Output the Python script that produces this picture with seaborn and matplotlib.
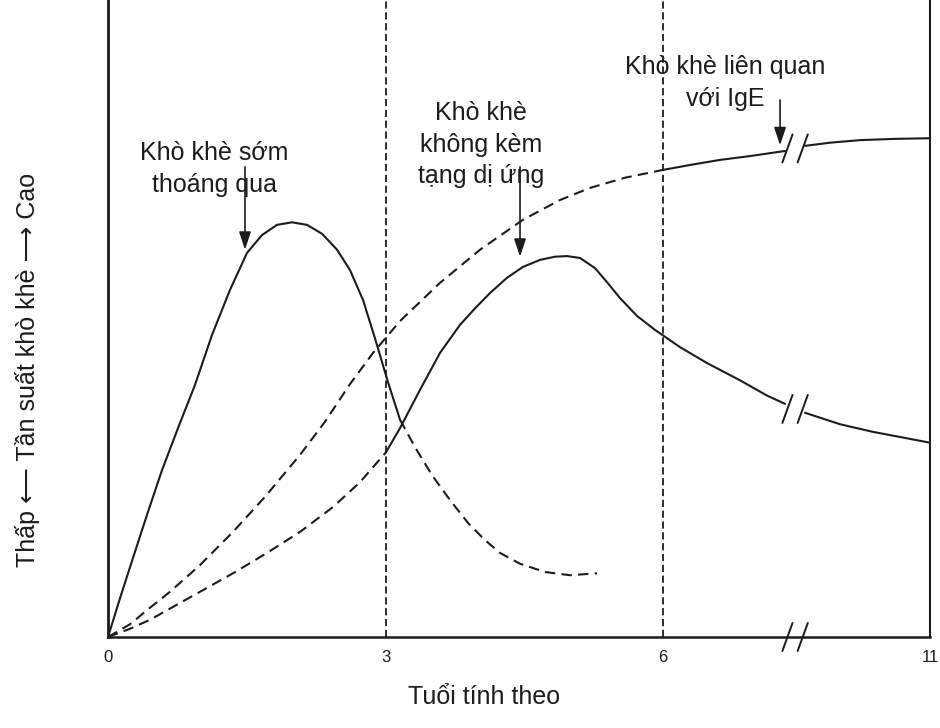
import numpy as np
import pandas as pd
import matplotlib
matplotlib.use("Agg")
import matplotlib.pyplot as plt
import seaborn as sns

# ---------------- data (x = position on the drawn age axis, y = 0-100 frequency) ----------
tick_pos = [0, 3, 6, 8.886]
tick_labels = ["0", "3", "6", "11"]

# Early transient wheeze (solid part, then dashed continuation)
early_x = [0.0, 0.130, 0.270, 0.422, 0.584, 0.757, 0.941, 1.124, 1.319, 1.503, 1.665, 1.827,
           1.989, 2.151, 2.314, 2.476, 2.616, 2.757, 2.886, 3.027, 3.157]
early_y = [0.0, 6.1, 12.4, 19.2, 26.2, 32.8, 39.6, 47.4, 54.5, 60.3, 63.1, 64.7,
           65.1, 64.7, 63.3, 60.8, 57.6, 52.9, 46.9, 40.0, 34.1]
early_tail_x = [3.157, 3.319, 3.503, 3.697, 3.892, 4.076, 4.238, 4.454, 4.724, 4.995, 5.286]
early_tail_y = [34.1, 29.8, 25.4, 21.5, 17.9, 15.2, 13.2, 11.5, 10.2, 9.7, 10.0]

# IgE-associated wheeze (dashed onset, then solid)
ige_pre_x = [0.0, 0.238, 0.454, 0.670, 0.995, 1.351, 1.697, 2.076, 2.346, 2.616, 2.865,
             3.157, 3.589, 4.022, 4.486, 4.886, 5.211, 5.589, 5.989]
ige_pre_y = [0.0, 2.0, 4.6, 7.1, 11.3, 16.5, 22.0, 28.6, 33.8, 39.7, 44.6,
             49.6, 55.6, 60.8, 65.5, 68.6, 70.5, 72.1, 73.3]
ige_a_x = [5.989, 6.292, 6.616, 6.941, 7.319]
ige_a_y = [73.3, 74.1, 74.9, 75.5, 76.3]
ige_b_x = [7.535, 7.805, 8.130, 8.508, 8.886]
ige_b_y = [77.1, 77.6, 78.0, 78.2, 78.3]

# Non-atopic wheeze (dashed onset, then solid)
nonatopic_pre_x = [0.0, 0.238, 0.454, 0.724, 0.995, 1.351, 1.719, 2.076, 2.432, 2.724, 3.005]
nonatopic_pre_y = [0.0, 1.3, 2.7, 4.9, 7.1, 10.0, 13.2, 16.5, 20.4, 24.3, 29.0]
nonatopic_a_x = [3.005, 3.157, 3.373, 3.589, 3.805, 3.968, 4.130, 4.314, 4.486, 4.670, 4.832,
                 4.962, 5.103, 5.265, 5.395, 5.535, 5.719, 5.914, 6.184, 6.476, 6.832, 7.124, 7.319]
nonatopic_a_y = [29.0, 32.8, 38.8, 44.6, 49.0, 51.6, 54.0, 56.4, 58.1, 59.2, 59.7,
                 59.8, 59.5, 57.9, 55.7, 53.2, 50.4, 48.2, 45.5, 43.0, 40.3, 37.9, 36.6]
nonatopic_b_x = [7.535, 7.914, 8.270, 8.562, 8.886]
nonatopic_b_y = [35.2, 33.4, 32.2, 31.4, 30.5]

age_marks = [3, 6]
break_pos = [7.345, 7.51]

labels = ["Khò khè sớm\nthoáng qua", "Khò khè\nkhông kèm\ntạng dị ứng", "Khò khè liên quan\nvới IgE"]
label_xy = [(1.146, 73.5), (4.03, 77.3), (6.67, 87.0)]
arrow_from = [(1.481, 73.8), (4.454, 73.8), (7.265, 84.3)]
arrow_to = [(1.481, 60.8), (4.454, 59.7), (7.265, 77.2)]

xlabel = "Tuổi tính theo"
ylabel = "Thấp ⟵ Tần suất khò khè ⟶ Cao"

# ---------------- drawing ----------------
sns.set_theme(style="white")
plt.rcParams["font.family"] = ["Liberation Sans", "DejaVu Sans"]

ink = "#1c1c1c"
fig = plt.figure(figsize=(9.4, 7.28), dpi=100)
ax = fig.add_axes([108 / 940, 91 / 728, 822 / 940, 637 / 728])

def seg(x, y, dashed=False, lw=1.5):
    df = pd.DataFrame({"x": x, "y": y})
    ls = (0, (5, 3)) if dashed else "-"
    sns.lineplot(data=df, x="x", y="y", ax=ax, sort=False, estimator=None,
                 color=ink, lw=lw, linestyle=ls)

seg(early_x, early_y)
seg(early_tail_x, early_tail_y, dashed=True)
seg(ige_pre_x, ige_pre_y, dashed=True)
seg(ige_a_x, ige_a_y)
seg(ige_b_x, ige_b_y)
seg(nonatopic_pre_x, nonatopic_pre_y, dashed=True)
seg(nonatopic_a_x, nonatopic_a_y)
seg(nonatopic_b_x, nonatopic_b_y)

for m in age_marks:
    ax.axvline(m, color=ink, lw=1.3, linestyle=(0, (4, 2)), zorder=1)

# break marks "//" on the broken curves and on the axis
for yv in [ige_a_y[-1] + 0.4, nonatopic_a_y[-1] - 0.8, 0.0]:
    for bx in break_pos:
        ax.plot([bx - 0.055, bx + 0.055], [yv - 2.2, yv + 2.2], color=ink, lw=1.4,
                clip_on=False, zorder=5)

for txt, (tx, ty) in zip(labels, label_xy):
    ax.text(tx, ty, txt, ha="center", va="center", fontsize=18, color=ink,
            linespacing=1.4)

for (x0, y0), (x1, y1) in zip(arrow_from, arrow_to):
    ax.annotate("", xy=(x1, y1), xytext=(x0, y0),
                arrowprops=dict(arrowstyle="-|>,head_length=0.9,head_width=0.3",
                                color=ink, lw=1.2, shrinkA=0, shrinkB=0))

ax.set_xlim(0, tick_pos[-1])
ax.set_ylim(0, 100)
ax.set_xticks(tick_pos)
ax.set_xticklabels(tick_labels, fontsize=12, color=ink)
ax.set_yticks([])
ax.tick_params(axis="x", length=0, pad=9)
ax.set_xlabel(xlabel, fontsize=18, color=ink)
ax.set_ylabel(ylabel, fontsize=18, color=ink)
ax.xaxis.set_label_coords(0.457, -0.075)
ax.yaxis.set_label_coords(-0.083, 0.42)

ax.spines["top"].set_visible(False)
for s, w in [("left", 2.0), ("bottom", 1.8), ("right", 1.5)]:
    ax.spines[s].set_color(ink)
    ax.spines[s].set_linewidth(w)
ax.set_facecolor("white")
fig.patch.set_facecolor("white")

fig.savefig("out.png", dpi=100)
